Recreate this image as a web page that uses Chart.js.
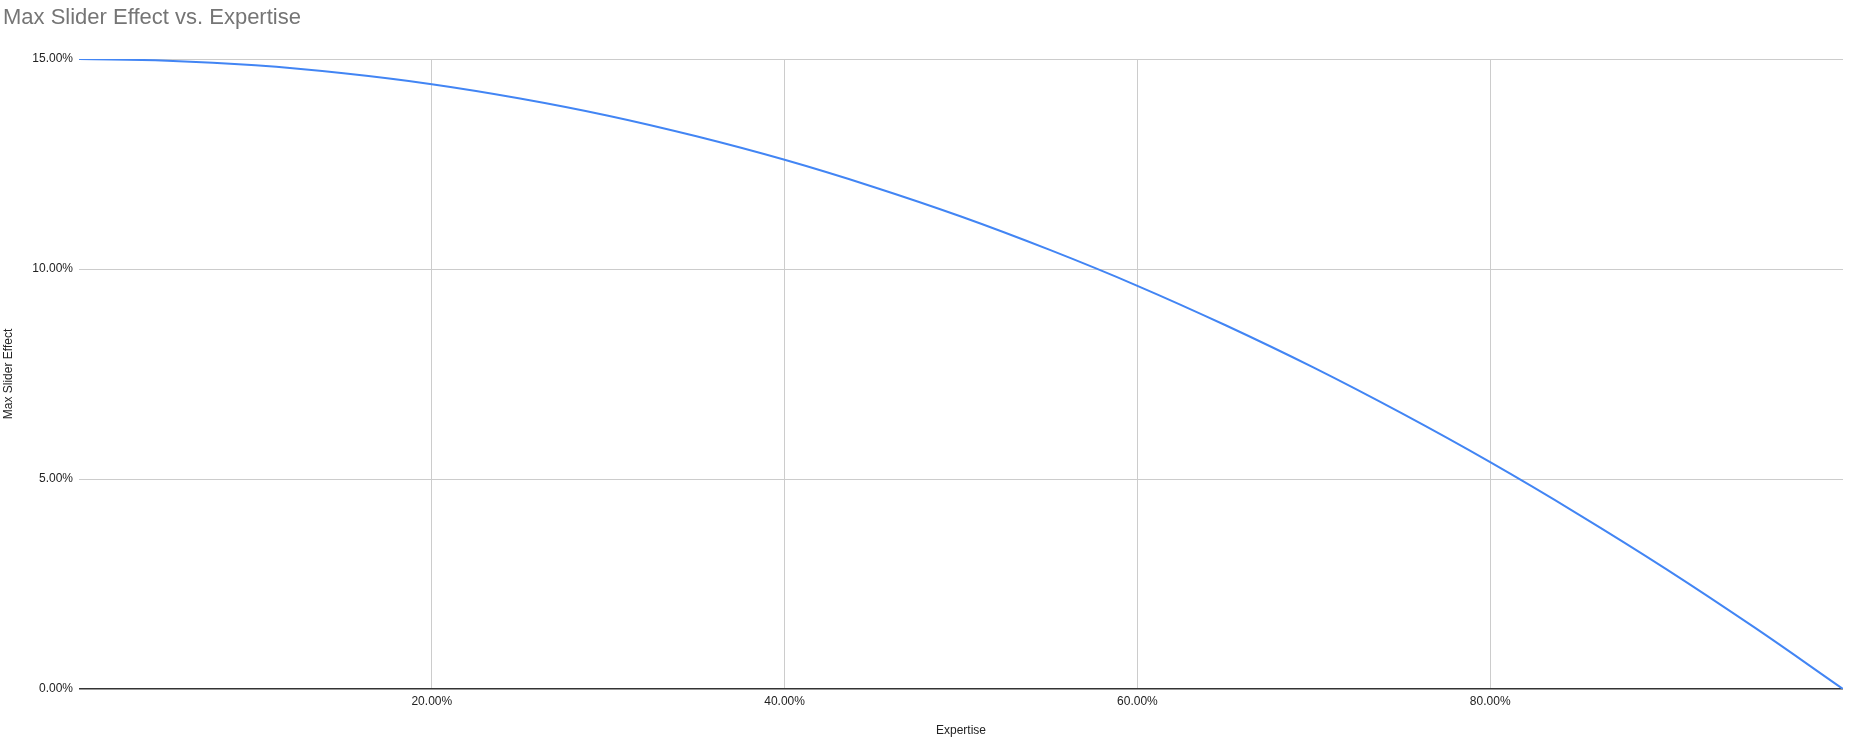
<!DOCTYPE html>
<html>
<head>
<meta charset="utf-8">
<title>Max Slider Effect vs. Expertise</title>
<script src="https://cdn.jsdelivr.net/npm/chart.js@4/dist/chart.umd.min.js"></script>
<style>
  html, body { margin: 0; padding: 0; background: #ffffff; }
  #wrap { position: relative; width: 1857px; height: 743px; }
</style>
</head>
<body>
<div id="wrap"><canvas id="effectChart" width="1857" height="743"></canvas></div>
<script>
// Expertise (%) on the x axis
const expertise = [0, 5, 10, 15, 20, 25, 30, 35, 40, 45, 50, 55, 60, 65, 70, 75, 80, 85, 90, 95, 100];
// Max slider effect (%)
const maxSliderEffect = [15.0, 14.96, 14.85, 14.66, 14.4, 14.06, 13.65, 13.16, 12.6, 11.96, 11.25,
  10.46, 9.6, 8.66, 7.65, 6.56, 5.4, 4.16, 2.85, 1.46, 0];
const xTicks = [20, 40, 60, 80];
const yTicks = [0, 5, 10, 15];

const points = expertise.map((x, i) => ({ x: x, y: maxSliderEffect[i] }));
const pct = v => Number(v).toFixed(2) + "%";
const FONT = "Arial, 'Liberation Sans', sans-serif";

const ctx = document.getElementById("effectChart").getContext("2d");
new Chart(ctx, {
  type: "line",
  data: {
    datasets: [{
      label: "Max Slider Effect",
      data: points,
      borderColor: "#4285f4",
      borderWidth: 2,
      pointRadius: 0,
      tension: 0.4,
      fill: false
    }]
  },
  options: {
    responsive: false,
    animation: false,
    layout: { padding: { top: 0, right: 14, left: 3, bottom: 0 } },
    plugins: {
      legend: { display: false },
      tooltip: { enabled: false },
      title: {
        display: true,
        text: "Max Slider Effect vs. Expertise",
        align: "start",
        color: "#757575",
        font: { family: FONT, size: 22, weight: "normal" },
        padding: { top: 5, bottom: 27.6 }
      }
    },
    scales: {
      x: {
        type: "linear",
        min: 0,
        max: 100,
        afterBuildTicks: axis => { axis.ticks = [0].concat(xTicks, [100]).map(v => ({ value: v })); },
        afterFit: axis => { axis.height = 54; },
        ticks: {
          color: "#222222",
          font: { family: FONT, size: 12 },
          padding: 5,
          maxRotation: 0,
          callback: v => (v === 0 || v === 100) ? null : pct(v)
        },
        grid: { color: "#cccccc", lineWidth: 1, drawTicks: false },
        border: { display: false },
        title: {
          display: true,
          text: "Expertise",
          color: "#222222",
          font: { family: FONT, size: 12 },
          padding: { top: 0, bottom: 5 }
        }
      },
      y: {
        type: "linear",
        min: 0,
        max: 15,
        afterBuildTicks: axis => { axis.ticks = yTicks.map(v => ({ value: v })); },
        afterFit: axis => { axis.width = 76; },
        ticks: {
          color: "#222222",
          font: { family: FONT, size: 12 },
          padding: 6,
          callback: v => pct(v)
        },
        grid: {
          color: c => c.tick && c.tick.value === 0 ? "#333333" : "#cccccc",
          lineWidth: c => c.tick && c.tick.value === 0 ? 1.5 : 1,
          drawTicks: false
        },
        border: { display: false },
        title: {
          display: true,
          text: "Max Slider Effect",
          color: "#222222",
          font: { family: FONT, size: 12, lineHeight: 1 },
          padding: { top: 0, bottom: 0 }
        }
      }
    }
  }
});
</script>
</body>
</html>
